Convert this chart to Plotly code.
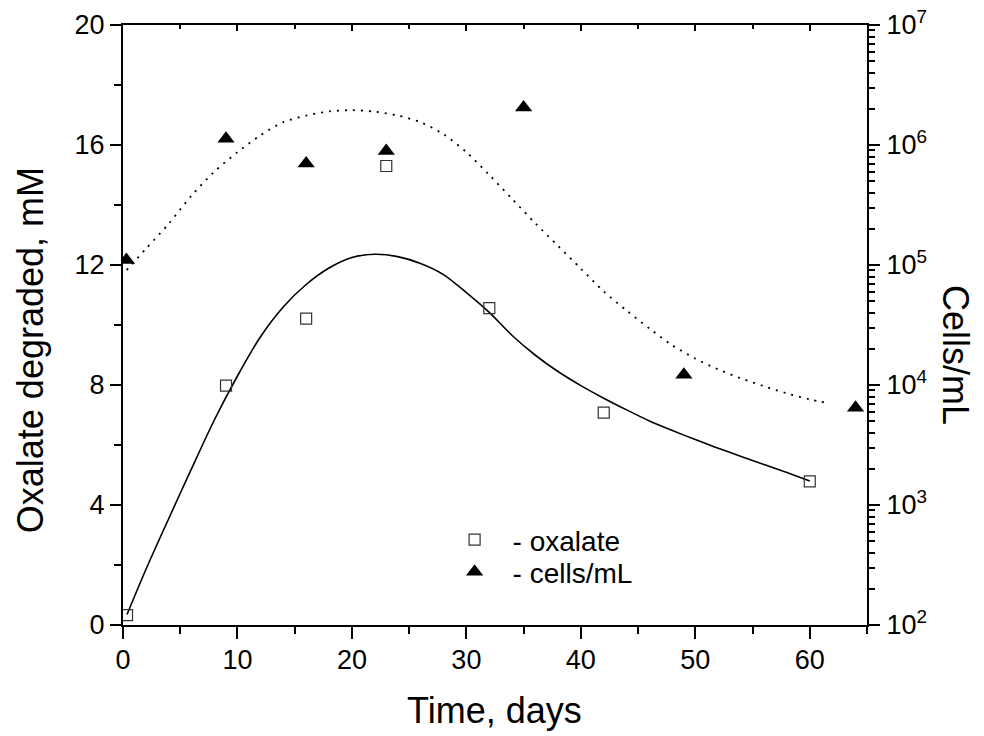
import plotly.graph_objects as go

# ---- data ----
ox_days = [0.35, 9, 16, 23, 32, 42, 60]
ox_mM = [0.33, 7.98, 10.21, 15.3, 10.56, 7.08, 4.79]

cell_days = [0.3, 9, 16, 23, 35, 49, 64]
cell_conc = [1.1e5, 1.13e6, 7.0e5, 8.9e5, 2.05e6, 1.22e4, 6.46e3]

# fitted curve for oxalate (solid)
fit_ox_days = [0.35, 2, 4, 6, 8, 10, 12, 14, 16, 18, 20, 22, 24, 26, 28, 30,
               32, 34, 36, 38, 40, 42, 44, 46, 48, 50, 52, 54, 56, 58, 60]
fit_ox_mM = [0.35, 1.85, 3.55, 5.22, 6.85, 8.3, 9.6, 10.6, 11.35, 11.9, 12.25,
             12.36, 12.28, 12.05, 11.68, 11.08, 10.42, 9.65, 9.0, 8.45, 7.98,
             7.56, 7.17, 6.8, 6.48, 6.18, 5.89, 5.62, 5.35, 5.08, 4.8]

# fitted curve for cells (dotted), log10 of cells/mL
fit_cell_days = [0.32, 2, 4, 6, 8, 10, 12, 14, 16, 18, 20, 22, 24, 26, 28, 30,
                 32, 34, 36, 38, 40, 42, 44, 46, 48, 50, 52, 54, 56, 58, 60, 61.5]
fit_cell_log = [4.958, 5.135, 5.345, 5.58, 5.78, 5.94, 6.08, 6.19, 6.245, 6.28,
                6.29, 6.278, 6.245, 6.19, 6.09, 5.94, 5.75, 5.55, 5.35, 5.16,
                4.97, 4.78, 4.62, 4.47, 4.33, 4.22, 4.13, 4.055, 3.99, 3.93,
                3.88, 3.85]

x_ticks = [0, 10, 20, 30, 40, 50, 60]
y_ticks = [0, 4, 8, 12, 16, 20]
y2_ticks = [1e2, 1e3, 1e4, 1e5, 1e6, 1e7]
y2_labels = ["10<sup>2</sup>", "10<sup>3</sup>", "10<sup>4</sup>",
             "10<sup>5</sup>", "10<sup>6</sup>", "10<sup>7</sup>"]

FONT = "Liberation Sans"

fig = go.Figure()

fig.add_trace(go.Scatter(
    x=fit_ox_days, y=fit_ox_mM, mode="lines",
    line=dict(color="black", width=1.6, shape="spline", smoothing=0.8),
    showlegend=False, hoverinfo="skip"))

fig.add_trace(go.Scatter(
    x=fit_cell_days, y=[10 ** v for v in fit_cell_log], mode="lines",
    line=dict(color="black", width=1.8, dash="2px,6px", shape="spline",
              smoothing=0.8),
    yaxis="y2", showlegend=False, hoverinfo="skip"))

fig.add_trace(go.Scatter(
    x=ox_days, y=ox_mM, mode="markers", name="- oxalate", legend="legend",
    marker=dict(symbol="square-open", size=11, color="#333333",
                line=dict(width=1.2, color="#333333"))))

fig.add_trace(go.Scatter(
    x=cell_days, y=cell_conc, mode="markers", name="- cells/mL",
    yaxis="y2", legend="legend2",
    marker=dict(symbol="triangle-up", size=15, color="black")))

axis_common = dict(showline=True, linecolor="black", linewidth=2, showgrid=False,
                   zeroline=False, tickcolor="black", tickwidth=2,
                   tickfont=dict(family=FONT, size=27, color="black"))

legend_common = dict(xanchor="left", yanchor="middle", x=0.4215,
                     bgcolor="rgba(0,0,0,0)", borderwidth=0,
                     font=dict(family=FONT, size=28, color="black"),
                     itemwidth=66)

fig.update_layout(
    width=984, height=736,
    margin=dict(l=123, r=117, t=25, b=111),
    paper_bgcolor="white", plot_bgcolor="white",
    font=dict(family=FONT, color="black"),
    xaxis=dict(range=[0, 65], tickvals=x_ticks,
               ticks="outside", ticklen=12, ticklabelstandoff=-2,
               automargin=False,
               minor=dict(tickvals=[5, 15, 25, 35, 45, 55, 65], ticks="outside",
                          ticklen=7, tickwidth=2, tickcolor="black"),
               **axis_common),
    xaxis2=dict(range=[0, 65], overlaying="x", side="top",
                tickvals=x_ticks, ticks="inside", ticklen=6,
                showticklabels=False, automargin=False,
                minor=dict(tickvals=[5, 15, 25, 35, 45, 55, 65], ticks="inside",
                           ticklen=4, tickwidth=2, tickcolor="black"),
                **axis_common),
    yaxis=dict(range=[0, 20], tickvals=y_ticks,
               ticks="outside", ticklen=11, ticklabelstandoff=0,
               automargin=False,
               minor=dict(tickvals=[2, 6, 10, 14, 18], ticks="outside",
                          ticklen=7, tickwidth=2, tickcolor="black"),
               **axis_common),
    yaxis2=dict(type="log", range=[2, 7], overlaying="y", side="right",
                tickvals=y2_ticks, ticktext=y2_labels,
                ticks="outside", ticklen=11, ticklabelstandoff=1,
                automargin=False,
                minor=dict(dtick="D1", ticks="outside", ticklen=6,
                           tickwidth=2, tickcolor="black", showgrid=False),
                **axis_common),
    legend=dict(y=0.1417, **legend_common),
    legend2=dict(y=0.0883, **legend_common),
    annotations=[
        dict(text="Oxalate degraded, mM", xref="paper", yref="paper",
             x=-0.1250, y=0.458, xanchor="center", yanchor="middle",
             textangle=-90, showarrow=False,
             font=dict(family=FONT, size=36, color="black")),
        dict(text="Cells/mL", xref="paper", yref="paper",
             x=1.1197, y=0.45, xanchor="center", yanchor="middle",
             textangle=90, showarrow=False,
             font=dict(family=FONT, size=36, color="black")),
        dict(text="Time, days", xref="paper", yref="paper",
             x=0.4987, y=-0.143, xanchor="center", yanchor="middle",
             showarrow=False,
             font=dict(family=FONT, size=36, color="black")),
    ],
)

# invisible trace so the mirrored top axis is drawn
fig.add_trace(go.Scatter(x=[0], y=[0], xaxis="x2", mode="markers",
                         marker=dict(opacity=0), showlegend=False, hoverinfo="skip"))

fig.write_html("out.html", config={"displayModeBar": False},
               post_script="document.body.style.margin='0px';")
